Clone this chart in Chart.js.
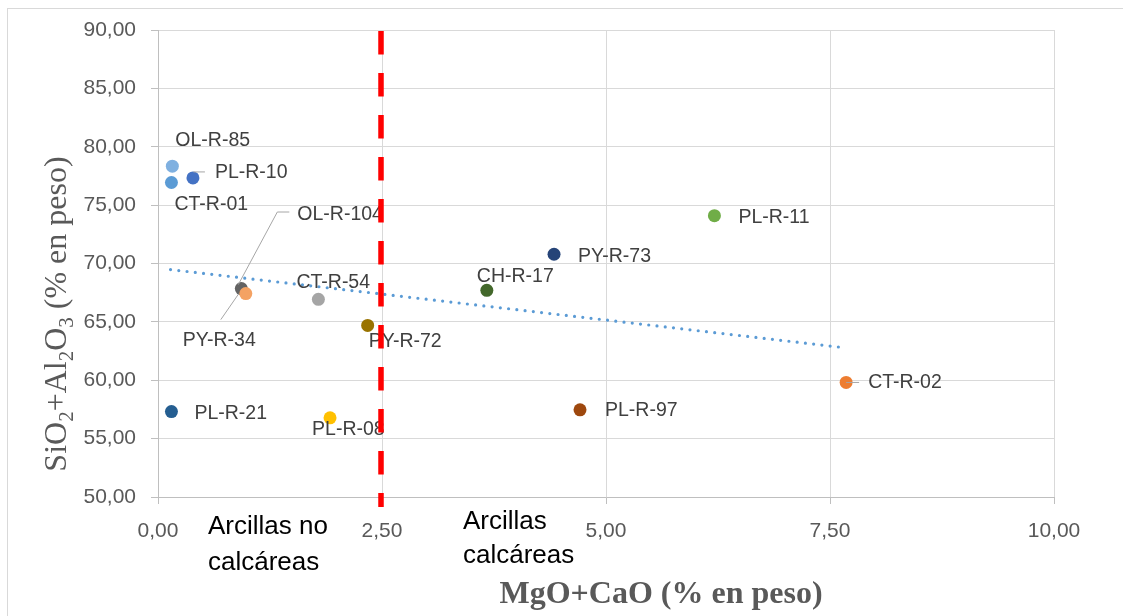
<!DOCTYPE html>
<html lang="es">
<head>
<meta charset="utf-8">
<title>SiO2+Al2O3 frente a MgO+CaO</title>
<script src="https://cdn.jsdelivr.net/npm/chart.js@4/dist/chart.umd.min.js"></script>
<style>
  html, body { margin: 0; padding: 0; background: #fff; overflow: hidden; }
  #chart { display: block; }
</style>
</head>
<body>
<canvas id="chart" width="1123" height="616"></canvas>
<script>
// muestras y contenidos (% en peso)
const sampleNames = ['OL-R-85', 'CT-R-01', 'PL-R-10', 'OL-R-104', 'PY-R-34', 'CT-R-54', 'PY-R-72',
    'PY-R-73', 'CH-R-17', 'PL-R-08', 'PL-R-97', 'PL-R-11', 'CT-R-02', 'PL-R-21'];
const mgoCao = [0.16, 0.15, 0.39, 0.93, 0.98, 1.79, 2.34, 4.42, 3.67, 1.92, 4.71, 6.21, 7.68, 0.15];
const sio2Al2o3 = [78.34, 76.94, 77.33, 67.85, 67.42, 66.93, 64.70, 70.79, 67.70, 56.78, 57.47, 74.10, 59.81, 57.32];

// linea de tendencia (extremos)
const trendX = [0.14, 7.66];
const trendY = [69.48, 62.79];

// limite entre arcillas no calcareas y calcareas
const boundaryX = 2.5;

const pointColors = ['#7fb0e0', '#5b9bd5', '#4472c4', '#636363', '#f4a263', '#a5a5a5', '#997300',
    '#264478', '#43682b', '#ffc000', '#9e480e', '#70ad47', '#ed7d31', '#255e91'];

// desplazamiento de cada etiqueta respecto a su punto [dx, dy]
const labelOffsets = [[3, -26], [3, 22], [22, -5], [56, -74], [-63, 47], [-22, -17], [1, 16],
    [24, 2], [-10, -14], [-18, 12], [25, 1], [24, 2], [22, 0], [23, 2]];

// lineas guia de algunas etiquetas (relativas al punto)
const leaders = {
    'PL-R-10': [[0.5, -6], [12, -6]],
    'OL-R-104': [[-3, -4], [36, -76.6], [48, -76.6]],
    'PY-R-34': [[-7, 0], [-25, 26]],
    'CT-R-02': [[0, 0], [13, 0]]
};

const fmt = v => v.toFixed(2).replace('.', ',');

const extras = {
    id: 'extras',
    beforeDraw(chart) {
        const ctx = chart.ctx;
        ctx.save();
        ctx.strokeStyle = '#d9d9d9';
        ctx.lineWidth = 1;
        ctx.strokeRect(7.5, 8.5, 1300, 800);
        ctx.restore();
    },
    afterDatasetsDraw(chart) {
        const ctx = chart.ctx;
        const meta = chart.getDatasetMeta(0);
        const area = chart.chartArea;
        ctx.save();

        // lineas guia
        ctx.strokeStyle = '#a6a6a6';
        ctx.lineWidth = 1;
        meta.data.forEach((pt, i) => {
            const path = leaders[sampleNames[i]];
            if (!path) return;
            ctx.beginPath();
            path.forEach(([dx, dy], k) => {
                if (k === 0) ctx.moveTo(pt.x + dx, pt.y + dy);
                else ctx.lineTo(pt.x + dx, pt.y + dy);
            });
            ctx.stroke();
        });

        // etiquetas de las muestras
        ctx.font = '19.5px "Liberation Sans", Arial, sans-serif';
        ctx.fillStyle = '#404040';
        ctx.textAlign = 'left';
        ctx.textBaseline = 'middle';
        meta.data.forEach((pt, i) => {
            const [dx, dy] = labelOffsets[i];
            ctx.fillText(sampleNames[i], pt.x + dx, pt.y + dy);
        });

        // linea roja discontinua en el limite
        const bx = chart.scales.x.getPixelForValue(boundaryX) - 1;
        ctx.strokeStyle = '#ff0000';
        ctx.lineWidth = 5.5;
        ctx.setLineDash([23.5, 18.5]);
        ctx.beginPath();
        ctx.moveTo(bx, area.top + 1);
        ctx.lineTo(bx, area.bottom + 10);
        ctx.stroke();
        ctx.setLineDash([]);

        // textos de las zonas
        ctx.font = '26px "Liberation Sans", Arial, sans-serif';
        ctx.fillStyle = '#000';
        ctx.textBaseline = 'alphabetic';
        ctx.fillText('Arcillas no', 208, 534);
        ctx.fillText('calcáreas', 208, 570);
        ctx.fillText('Arcillas', 463, 529);
        ctx.fillText('calcáreas', 463, 563);

        // titulo eje X
        ctx.font = 'bold 32px "Liberation Serif", "Times New Roman", serif';
        ctx.fillStyle = '#595959';
        ctx.textAlign = 'center';
        ctx.fillText('MgO+CaO (% en peso)', 661, 603);

        // titulo eje Y con subindices
        const parts = [['SiO', 0], ['2', 1], ['+Al', 0], ['2', 1], ['O', 0], ['3', 1], [' (% en peso)', 0]];
        const bigFont = '32px "Liberation Serif", "Times New Roman", serif';
        const subFont = '21px "Liberation Serif", "Times New Roman", serif';
        let total = 0;
        parts.forEach(([t, sub]) => { ctx.font = sub ? subFont : bigFont; total += ctx.measureText(t).width; });
        ctx.translate(66, 314);
        ctx.rotate(-Math.PI / 2);
        ctx.textAlign = 'left';
        let x = -total / 2;
        parts.forEach(([t, sub]) => {
            ctx.font = sub ? subFont : bigFont;
            ctx.fillText(t, x, sub ? 7 : 0);
            x += ctx.measureText(t).width;
        });
        ctx.restore();
    }
};

new Chart(document.getElementById('chart'), {
    type: 'scatter',
    data: {
        datasets: [{
            data: mgoCao.map((x, i) => ({ x: x, y: sio2Al2o3[i] })),
            pointBackgroundColor: pointColors,
            pointBorderWidth: 0,
            pointRadius: 6.5,
            pointHoverRadius: 6.5
        }, {
            type: 'line',
            data: trendX.map((x, i) => ({ x: x, y: trendY[i] })),
            borderColor: '#5b9bd5',
            borderWidth: 3.2,
            borderDash: [0, 8.3],
            borderCapStyle: 'round',
            pointRadius: 0,
            fill: false
        }]
    },
    options: {
        responsive: false,
        animation: false,
        devicePixelRatio: 1,
        layout: { padding: { left: 0, right: 69, top: 30, bottom: 0 } },
        plugins: { legend: { display: false }, tooltip: { enabled: false } },
        scales: {
            x: {
                type: 'linear',
                min: 0,
                max: 10,
                ticks: {
                    stepSize: 2.5,
                    padding: 15,
                    color: '#595959',
                    font: { family: '"Liberation Sans", Arial, sans-serif', size: 21 },
                    callback: v => fmt(v)
                },
                grid: { color: '#d9d9d9', tickColor: '#bfbfbf', tickLength: 7 },
                border: { color: '#bfbfbf' },
                afterFit: s => { s.height = 119; }
            },
            y: {
                min: 50,
                max: 90,
                ticks: {
                    stepSize: 5,
                    padding: 15,
                    color: '#595959',
                    font: { family: '"Liberation Sans", Arial, sans-serif', size: 21 },
                    callback: v => fmt(v)
                },
                grid: { color: '#d9d9d9', tickColor: '#bfbfbf', tickLength: 7 },
                border: { color: '#bfbfbf' },
                afterFit: s => { s.width = 158; }
            }
        }
    },
    plugins: [extras]
});
</script>
</body>
</html>
